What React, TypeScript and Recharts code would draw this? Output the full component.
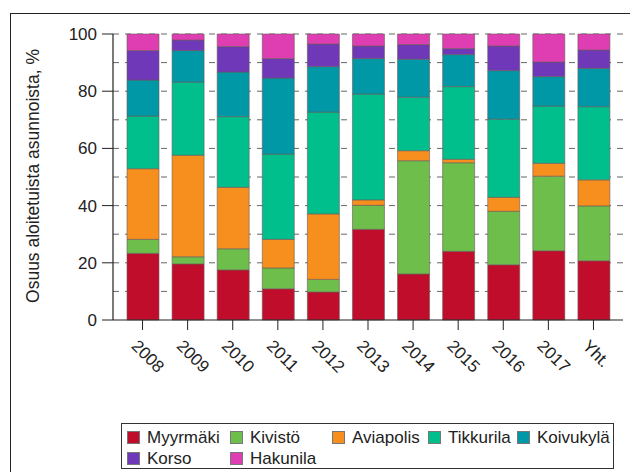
import React from 'react';
import { BarChart, Bar, XAxis, YAxis, CartesianGrid } from 'recharts';

const categories = ['2008', '2009', '2010', '2011', '2012', '2013', '2014', '2015', '2016', '2017', 'Yht.'];
const myyrmaki = [23.3, 19.6, 17.5, 10.9, 9.8, 31.7, 16.1, 24.0, 19.3, 24.2, 20.7];
const kivisto = [4.9, 2.5, 7.4, 7.3, 4.4, 8.4, 39.6, 31.0, 18.7, 26.1, 19.2];
const aviapolis = [24.7, 35.5, 21.5, 10.0, 22.9, 1.9, 3.5, 1.2, 4.9, 4.5, 9.1];
const tikkurila = [18.4, 25.6, 24.7, 29.8, 35.6, 37.0, 18.7, 25.4, 27.3, 20.0, 25.6];
const koivukyla = [12.6, 11.0, 15.6, 26.6, 15.9, 12.4, 13.3, 11.2, 17.0, 10.3, 13.4];
const korso = [10.3, 3.7, 8.9, 6.8, 7.9, 4.4, 5.1, 2.1, 8.6, 5.1, 6.4];
const hakunila = [5.8, 2.1, 4.4, 8.6, 3.5, 4.2, 3.7, 5.1, 4.2, 9.8, 5.6];
const yTicks = [0, 20, 40, 60, 80, 100];
const gridValues = [10, 20, 30, 40, 50, 60, 70, 80, 90, 100];

const seriesNames = ['Myyrmäki', 'Kivistö', 'Aviapolis', 'Tikkurila', 'Koivukylä', 'Korso', 'Hakunila'];
const seriesValues = [myyrmaki, kivisto, aviapolis, tikkurila, koivukyla, korso, hakunila];
const seriesColors = ['#C00D2B', '#6DBE4B', '#F78F1E', '#00BF8C', '#0097A7', '#6F38B8', '#DE3EB2'];

const data = categories.map((c, i) => {
  const row: any = { cat: c };
  seriesNames.forEach((n, k) => {
    row[n] = seriesValues[k][i];
  });
  return row;
});

const FONT = '"Liberation Sans", Arial, sans-serif';

const XTick = (props: any) => {
  const { x, y, payload } = props;
  const px = x - 12;
  const py = y + 15;
  return (
    <text
      x={px}
      y={py}
      transform={`rotate(45 ${px} ${py})`}
      textAnchor="start"
      fontSize={17}
      fontFamily={FONT}
      fill="#222"
    >
      {payload.value}
    </text>
  );
};

const legendCols = [127, 230, 332, 428, 517];

const LegendBox = () => (
  <div style={{ position: 'absolute', left: 121, top: 423, width: 493, height: 46, border: '1px solid #333', boxSizing: 'border-box', background: '#fff' }}>
    {seriesNames.map((n, i) => {
      const col = i % 5;
      const row = Math.floor(i / 5);
      return (
        <div
          key={n}
          style={{
            position: 'absolute',
            left: legendCols[col] - 122,
            top: 4 + row * 21,
            display: 'flex',
            alignItems: 'center',
            fontFamily: FONT,
            fontSize: 17,
            color: '#222',
            whiteSpace: 'nowrap',
            lineHeight: '19px',
          }}
        >
          <span style={{ display: 'inline-block', width: 11, height: 11, background: seriesColors[i], border: '0.5px solid #777', marginRight: 7 }} />
          {n}
        </div>
      );
    })}
  </div>
);

export default function App() {
  return (
    <div style={{ position: 'fixed', left: 0, top: 0, width: 630, height: 472, background: '#fff', overflow: 'hidden' }}>
      <div style={{ position: 'absolute', left: 10, top: 13, width: 660, height: 500, border: '1.5px solid #222' }} />
      <div style={{ position: 'absolute', left: 0, top: 0 }}>
        <BarChart
          width={630}
          height={472}
          data={data}
          margin={{ top: 34, right: 7, bottom: 0, left: 0 }}
        >
          <CartesianGrid
            vertical={false}
            horizontalValues={gridValues}
            stroke="#666"
            strokeDasharray="6 6"
          />
          <XAxis
            dataKey="cat"
            padding={{ left: 7, right: 7 }}
            tick={<XTick />}
            tickSize={10}
            tickLine={{ stroke: '#222' }}
            axisLine={{ stroke: '#222', strokeWidth: 1.2 }}
            interval={0}
            height={152}
          />
          <XAxis xAxisId="top" dataKey="cat" orientation="top" tick={false} tickLine={false} height={0} axisLine={{ stroke: '#222', strokeWidth: 1.5 }} />
          <YAxis
            domain={[0, 100]}
            ticks={yTicks}
            width={113}
            tickSize={11}
            tickMargin={5}
            tick={{ fontSize: 17, fontFamily: FONT, fill: '#222' }}
            tickLine={{ stroke: '#222' }}
            axisLine={{ stroke: '#222', strokeWidth: 1.2 }}
            label={{
              content: () => (
                <text
                  x={33}
                  y={176}
                  transform="rotate(-90 33 176)"
                  textAnchor="middle"
                  dominantBaseline="central"
                  fontSize={17.5}
                  fontFamily={FONT}
                  fill="#222"
                >
                  Osuus aloitetuista asunnoista, %
                </text>
              ),
            }}
          />
          <YAxis yAxisId="right" orientation="right" domain={[0, 100]} tick={false} tickLine={false} width={0} axisLine={{ stroke: '#222', strokeWidth: 1.5 }} />
          {seriesNames.map((n, k) => (
            <Bar
              key={n}
              dataKey={n}
              name={n}
              stackId="a"
              fill={seriesColors[k]}
              stroke="#6a5a5a"
              strokeWidth={0.6}
              barSize={32}
              isAnimationActive={false}
            />
          ))}
        </BarChart>
      </div>
      <LegendBox />
    </div>
  );
}
